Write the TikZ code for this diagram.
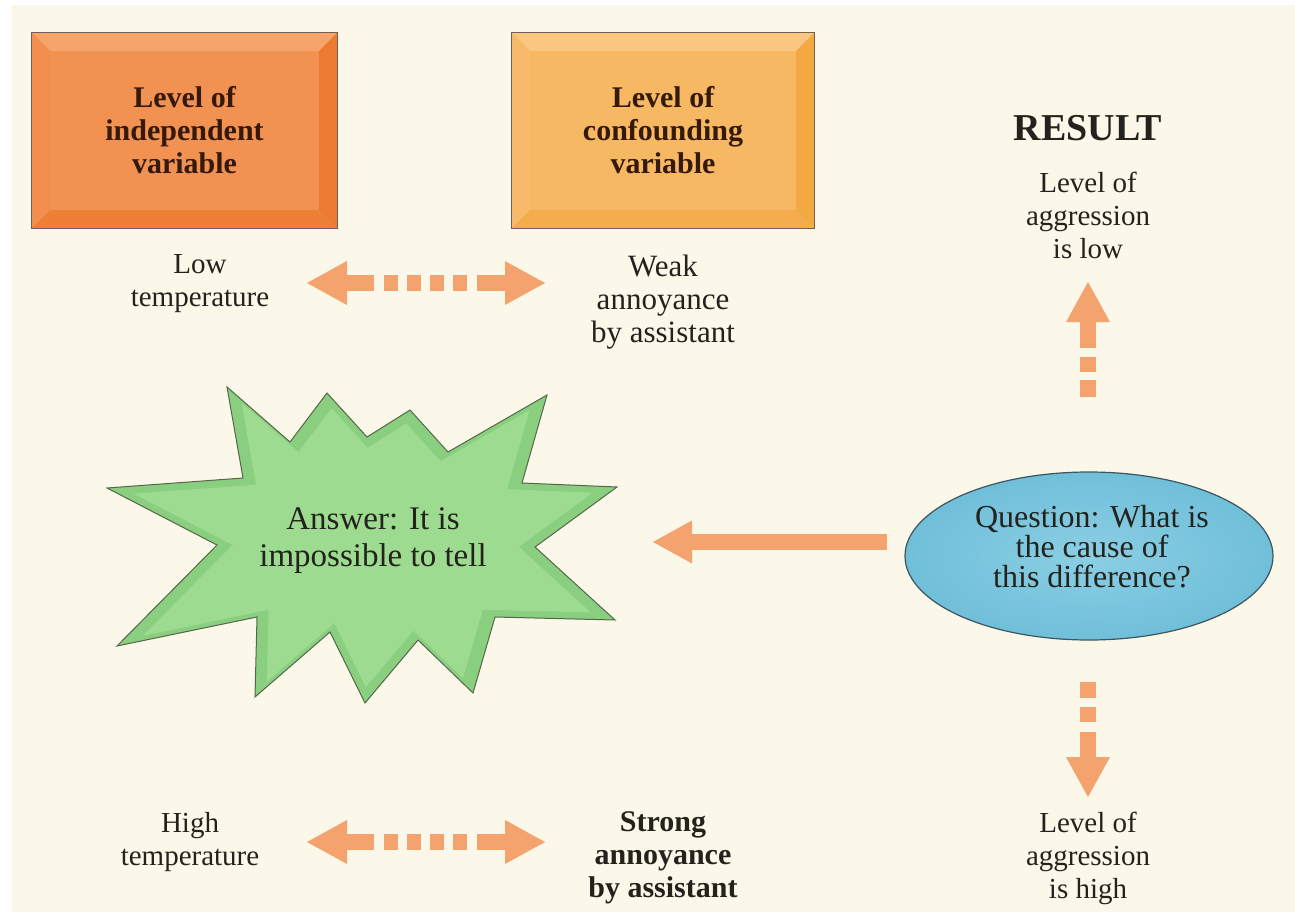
\documentclass[tikz,border=0pt]{standalone}
\usepackage{fontspec}
\setmainfont{Liberation Serif}
\usetikzlibrary{arrows.meta,calc,shapes.geometric}
\definecolor{paper}{HTML}{FCF8E9}
\definecolor{arr}{HTML}{F4A26E}
\definecolor{ink}{HTML}{24221C}
\definecolor{boxink}{HTML}{35190B}
\definecolor{oatop}{HTML}{F5A56C}
\definecolor{oaleft}{HTML}{F28E4E}
\definecolor{oaright}{HTML}{EC7A30}
\definecolor{oabot}{HTML}{EE8036}
\definecolor{oaface}{HTML}{F29252}
\definecolor{obtop}{HTML}{F9C782}
\definecolor{obleft}{HTML}{F7BA6B}
\definecolor{obright}{HTML}{F3A842}
\definecolor{obbot}{HTML}{F4AC4C}
\definecolor{obface}{HTML}{F7B864}
\definecolor{starrim}{HTML}{89CF7F}
\definecolor{starface}{HTML}{9DDB91}
\definecolor{starline}{HTML}{56664C}
\definecolor{qin}{HTML}{8ACFE4}
\definecolor{qout}{HTML}{70BFD9}
\definecolor{qline}{HTML}{3C5560}
\newcommand\bevelfaces[2]{%
  \fill[#2top] (#1.north west) -- (#1.north east) -- ($(#1.north east)+(-18,18)$) -- ($(#1.north west)+(18,18)$) -- cycle;
  \fill[#2left] (#1.north west) -- ($(#1.north west)+(18,18)$) -- ($(#1.south west)+(18,-18)$) -- (#1.south west) -- cycle;
  \fill[#2right] (#1.north east) -- ($(#1.north east)+(-18,18)$) -- ($(#1.south east)+(-18,-18)$) -- (#1.south east) -- cycle;
  \fill[#2bot] (#1.south west) -- ($(#1.south west)+(18,-18)$) -- ($(#1.south east)+(-18,-18)$) -- (#1.south east) -- cycle;
  \draw[boxink!70, line width=0.9pt] (#1.north west) rectangle (#1.south east);
}
\def\starpath{(107,488) -- (243,478) -- (227,387) -- (290,442) -- (327,393) -- (367,437) -- (410,410) -- (448,452) -- (547,395) -- (522,483) -- (617,487) -- (535,547) -- (615,620) -- (495,617) -- (473,693) -- (418,640) -- (365,703) -- (330,632) -- (255,697) -- (257,617) -- (117,646) -- (217,545) -- cycle}
\tikzset{
  lbl/.style={align=center, text=ink, font=\fontsize{29}{33}\selectfont, inner sep=0pt},
  lblbold/.style={align=center, text=ink, font=\fontsize{30}{33}\selectfont\bfseries, inner sep=0pt},
  vbox/.style={rectangle, minimum height=195pt, inner sep=0pt, align=center, text=boxink, font=\fontsize{30}{33}\selectfont\bfseries},
  dblarrow/.style={draw=arr, line width=16pt, {Triangle[length=40pt,width=44pt,line width=0pt]}-{Triangle[length=40pt,width=44pt,line width=0pt]},
    dash pattern=on 27pt off 10pt on 14pt off 9pt on 14pt off 9pt on 14pt off 9pt on 14pt off 10pt on 60pt},
  uparrow/.style={draw=arr, line width=16pt, -{Triangle[length=40pt,width=44pt,line width=0pt]},
    dash pattern=on 17pt off 8pt on 15pt off 9pt on 80pt},
  downarrow/.style={draw=arr, line width=16pt, -{Triangle[length=40pt,width=44pt,line width=0pt]},
    dash pattern=on 16pt off 9pt on 15pt off 10pt on 80pt},
  solidarrow/.style={draw=arr, line width=16pt, -{Triangle[length=39pt,width=43pt,line width=0pt]}},
}
\begin{document}
\begin{tikzpicture}[x=1pt,y=-1pt]
\useasboundingbox (0,0) rectangle (1295,912);
\fill[white] (-5,-5) rectangle (1300,920);
\fill[paper] (12,5) rectangle (1300,920);

% variable boxes
\node[vbox, fill=oaface, minimum width=305pt] (iv) at (184.5,130.5) {Level of\\independent\\variable};
\bevelfaces{iv}{oa}
\node[vbox, fill=obface, minimum width=302pt] (cv) at (663,130.5) {Level of\\confounding\\variable};
\bevelfaces{cv}{ob}

% result header
\node[text=ink, font=\fontsize{38}{42}\selectfont\bfseries, inner sep=0pt] (res) at (1088,128) {RESULT};
\node[lbl] (reslow) at (1088,215) {Level of\\aggression\\is low};

% labels
\node[lbl] (lowt) at (200,284) {Low\\temperature};
\node[lbl, font=\fontsize{31}{33}\selectfont] (weak) at (663,302) {Weak\\annoyance\\by assistant};
\node[lbl] (hight) at (190,842) {High\\temperature};
\node[lblbold] (strong) at (663,858) {Strong\\annoyance\\by assistant};
\node[lbl] (reshigh) at (1088,858) {Level of\\aggression\\is high};

% star
\fill[starrim] \starpath;
\begin{scope}[shift={(373,545)}, scale=0.9, shift={(-373,-545)}]
  \fill[starface] \starpath;
\end{scope}
\draw[starline, line width=1pt, line join=miter] \starpath;
\node[lbl, font=\fontsize{33}{37}\selectfont] (ans) at (373,541) {Answer: It is\\impossible to tell};

% question ellipse
\node[ellipse, draw=qline, line width=1.2pt, inner color=qin, outer color=qout,
      minimum width=368pt, minimum height=168pt, inner sep=0pt] (q) at (1089,556) {};
\node[lbl, font=\fontsize{32}{30}\selectfont] (qt) at (1092,547) {Question: What is\\the cause of\\this difference?};

% connectors
\coordinate (ta) at (307,283);
\coordinate (tb) at (545,283);
\draw[dblarrow] (ta) -- (tb);
\coordinate (ba) at (307,842);
\coordinate (bb) at (545,842);
\draw[dblarrow] (ba) -- (bb);
\coordinate (ua) at (1088,397);
\coordinate (ub) at (1088,282);
\draw[uparrow] (ua) -- (ub);
\coordinate (da) at (1088,682);
\coordinate (db) at (1088,797);
\draw[downarrow] (da) -- (db);
\coordinate (la) at (887,542);
\coordinate (lb) at (653,542);
\draw[solidarrow] (la) -- (lb);
\end{tikzpicture}
\end{document}
